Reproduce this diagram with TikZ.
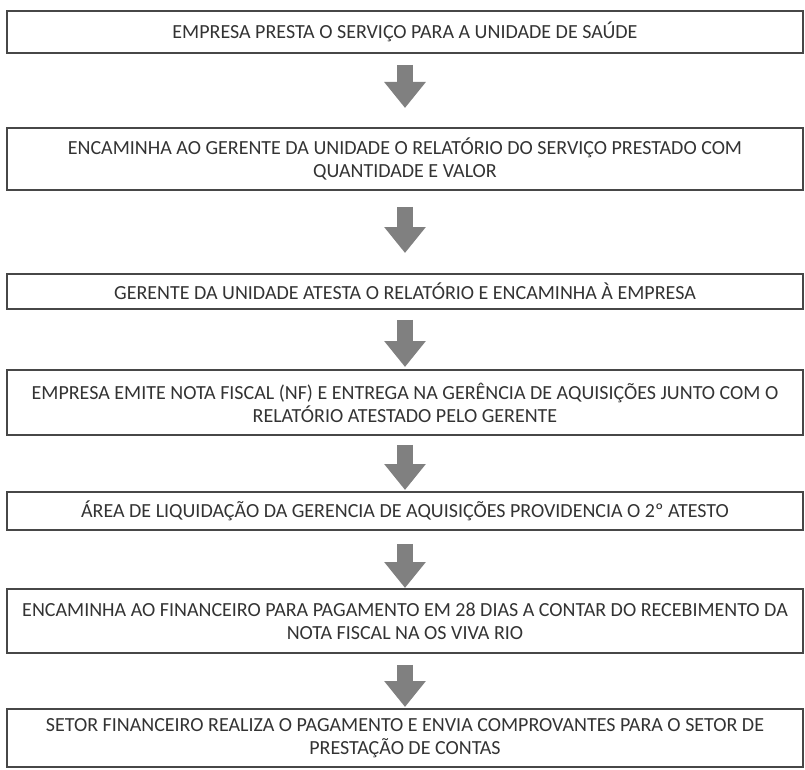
\documentclass[tikz,border=0pt]{standalone}
\usepackage{fontspec}
\setmainfont{Carlito}
\usetikzlibrary{arrows.meta,calc}
\definecolor{txt}{HTML}{333333}
\definecolor{edge}{HTML}{474747}
\definecolor{arr}{HTML}{808080}
\tikzset{
  stepbox/.style={draw=edge, line width=1.8pt, minimum width=796pt, inner sep=0pt,
    text=txt, align=center, font=\fontsize{20}{23}\selectfont, anchor=north},
  blockarrow/.style={draw=arr, line width=16pt, -{Triangle[length=26pt,width=40pt]}}
}
\begin{document}
\begin{tikzpicture}[x=1pt,y=-1pt]
\useasboundingbox (0,0) rectangle (805,770);
\node[stepbox, minimum height=42pt] (b1) at (405,10) {EMPRESA PRESTA O SERVIÇO PARA A UNIDADE DE SAÚDE};
\node[stepbox, minimum height=62pt] (b2) at (405,127) {ENCAMINHA AO GERENTE DA UNIDADE O RELATÓRIO DO SERVIÇO PRESTADO COM\\QUANTIDADE E VALOR};
\node[stepbox, minimum height=35pt] (b3) at (405,273) {GERENTE DA UNIDADE ATESTA O RELATÓRIO E ENCAMINHA À EMPRESA};
\node[stepbox, minimum height=65pt] (b4) at (405,369) {EMPRESA EMITE NOTA FISCAL (NF) E ENTREGA NA GERÊNCIA DE AQUISIÇÕES JUNTO COM O\\RELATÓRIO ATESTADO PELO GERENTE};
\node[stepbox, minimum height=38pt] (b5) at (405,491) {ÁREA DE LIQUIDAÇÃO DA GERENCIA DE AQUISIÇÕES PROVIDENCIA O 2º ATESTO};
\node[stepbox, minimum height=64pt] (b6) at (405,588) {ENCAMINHA AO FINANCEIRO PARA PAGAMENTO EM 28 DIAS A CONTAR DO RECEBIMENTO DA\\NOTA FISCAL NA OS VIVA RIO};
\node[stepbox, minimum height=58pt] (b7) at (405,708) {SETOR FINANCEIRO REALIZA O PAGAMENTO E ENVIA COMPROVANTES PARA O SETOR DE\\PRESTAÇÃO DE CONTAS};
\draw[blockarrow] ($(b1.south)+(0,11)$) -- ($(b2.north)+(0,-19)$);
\draw[blockarrow] ($(b2.south)+(0,16)$) -- ($(b3.north)+(0,-20)$);
\draw[blockarrow] ($(b3.south)+(0,10)$) -- ($(b4.north)+(0,-2)$);
\draw[blockarrow] ($(b4.south)+(0,9)$) -- ($(b5.north)+(0,-1)$);
\draw[blockarrow] ($(b5.south)+(0,13)$) -- ($(b6.north)+(0,0)$);
\draw[blockarrow] ($(b6.south)+(0,11)$) -- ($(b7.north)+(0,-1)$);
\end{tikzpicture}
\end{document}
